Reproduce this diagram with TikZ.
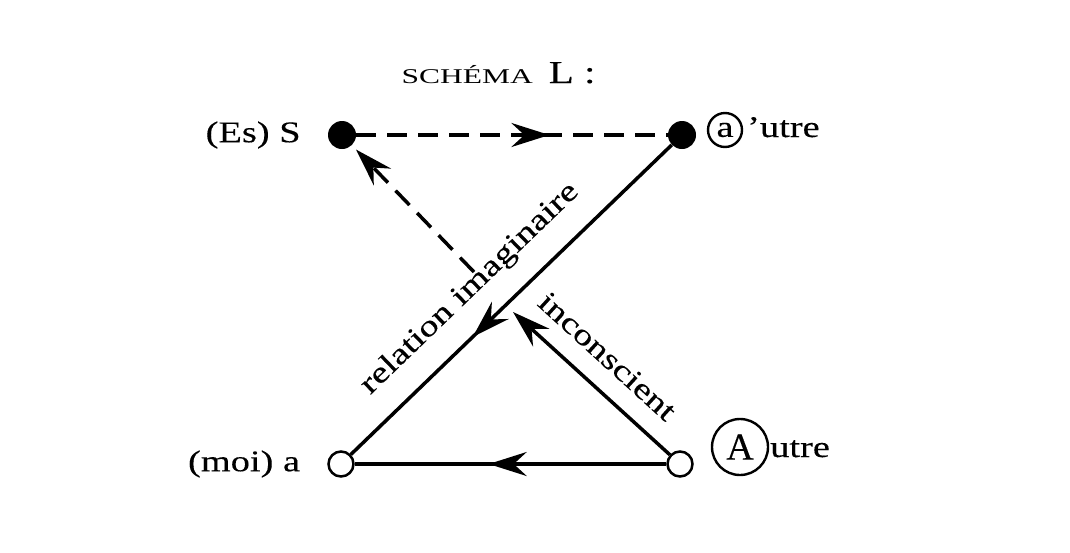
\documentclass[tikz,border=0pt]{standalone}
\usepackage{fontspec}
\setmainfont{Liberation Serif}[FakeStretch=1.28, FakeBold=0.25]
\newfontfamily\ttlfont{Liberation Serif}[FakeStretch=1.5]
\newfontfamily\plainfont{Liberation Serif}[FakeBold=0.25]
\usetikzlibrary{arrows.meta,positioning,decorations.markings}

\begin{document}
\begin{tikzpicture}[x=1pt, y=-1pt,
  dot/.style={circle, fill=black, inner sep=0pt, minimum size=28pt},
  hole/.style={circle, draw, line width=2.5pt, fill=white, inner sep=0pt, minimum size=25pt},
  lbl/.style={font=\fontsize{30}{30}\selectfont, inner sep=0pt},
  ring/.style={circle, draw, line width=2.4pt, inner sep=0pt},
  link/.style={line width=3.5pt},
  dlink/.style={link, dash pattern=on 20pt off 11pt},
  endtip/.style={-{Stealth[length=38pt,width=24pt,inset=13pt]}},
  midtip/.style={postaction={decorate}, decoration={markings,
      mark=at position #1 with {\arrow{Stealth[length=38pt,width=24pt,inset=13pt]}}}}
]
\useasboundingbox (0,0) rectangle (1070,552);

% the four corners of the schema
\node[dot]  (S)  at (342,135) {};
\node[dot]  (ap) at (682,135) {};
\node[hole] (a)  at (341,464) {};
\node[hole] (A)  at (680,464) {};
\coordinate (Ai) at (513,312);
\coordinate (Sd) at (474,272);

% names
\node[anchor=base west] (ttl) at (398,83)
  {{\ttlfont\fontsize{21}{21}\selectfont SCHÉMA}\hspace{16pt}{\fontsize{32}{32}\selectfont L :}};
\node[lbl, left=27pt of S] (es)  {(Es) S};
\node[lbl, left=27pt of a] (moi) {(moi) a};
\node[ring, minimum size=34pt, font=\fontsize{30}{30}\selectfont] (ca) at (725,130) {a};
\node[lbl, anchor=base west] (utreA) at (747,137) {’utre};
\node[ring, minimum size=56pt, font=\plainfont\fontsize{38}{38}\selectfont] (cA) at (740,447) {A};
\node[lbl, anchor=base west] (utreB) at (770,457) {utre};

% connectors
\draw[dlink, midtip=0.62] (S) -- (ap);
\draw[link, midtip=0.62] (ap) -- node[lbl, pos=0.55, sloped, above=21pt] (rel) {relation imaginaire} (a);
\draw[link, midtip=0.57] (A) -- (a);
\draw[link, endtip] (A) -- node[lbl, pos=0.53, sloped, above=19pt] (inc) {inconscient} (Ai);
\draw[dlink, endtip, shorten >=6pt] (Sd) -- (S);
\end{tikzpicture}
\end{document}
